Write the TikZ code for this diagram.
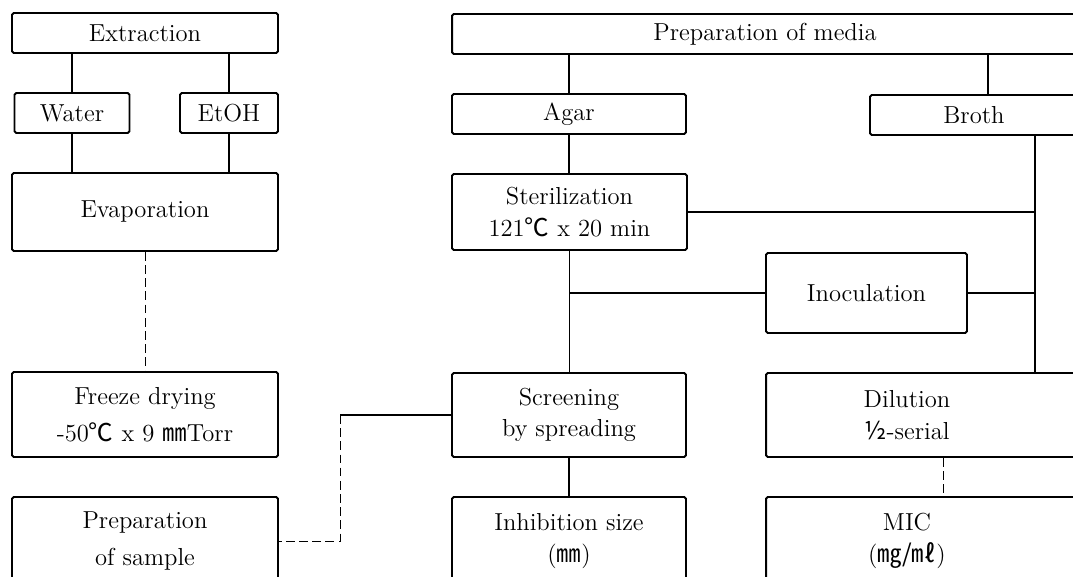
\documentclass[tikz,border=0pt]{standalone}
\usepackage{fontspec}
\newfontfamily\cjk{Noto Sans CJK KR}
\begin{document}
\begin{tikzpicture}[x=0.02cm,y=-0.02cm,
        font=\fontsize{14}{18}\selectfont,
        box/.style={draw,line width=1.1pt,rounded corners=1pt,inner sep=0pt,align=center},
        link/.style={line width=0.6pt},
        faint/.style={line width=0.5pt,dash pattern=on 5pt off 2.5pt}]

    \useasboundingbox (0,0) rectangle (1073,577);
    \fill[white] (0,0) rectangle (1073,577);
    \clip (0,0) rectangle (1073,577);

    % sample side
    \node[box,minimum width=5.32cm,minimum height=0.8cm] (extr) at (145,33) {Extraction};
    \node[box,minimum width=2.3cm,minimum height=0.8cm] (water) at (72,113) {Water};
    \node[box,minimum width=1.96cm,minimum height=0.8cm] (etoh) at (229,113) {EtOH};
    \node[box,minimum width=5.32cm,minimum height=1.56cm] (evap) at (145,212) {Evaporation};
    \node[box,minimum width=5.32cm,minimum height=1.7cm] (freeze) at (145,414.5)
        {Freeze drying\\[3pt]-50{\cjk ℃} x 9 {\cjk ㎜}Torr};
    \node[box,minimum width=5.32cm,minimum height=1.76cm] (sample) at (145,541)
        {Preparation\\[3pt]of sample};

    % media side
    \node[box,minimum width=12.52cm,minimum height=0.8cm] (media) at (765,34) {Preparation of media};
    \node[box,minimum width=4.68cm,minimum height=0.8cm] (agar) at (569,114) {Agar};
    \node[box,minimum width=4.16cm,minimum height=0.8cm] (broth) at (974,115) {Broth};
    \node[box,minimum width=4.7cm,minimum height=1.52cm] (ster) at (569.5,212)
        {Sterilization\\121{\cjk ℃} x 20 min};
    \node[box,minimum width=4.02cm,minimum height=1.6cm] (inoc) at (866.5,293) {Inoculation};
    \node[box,minimum width=4.68cm,minimum height=1.68cm] (screen) at (569,415)
        {Screening\\by spreading};
    \node[box,minimum width=4.68cm,minimum height=1.76cm] (inh) at (569,541)
        {Inhibition size\\({\cjk ㎜})};
    \node[box,minimum width=6.4cm,minimum height=1.68cm] (dil) at (926,415) {};
    \node (dil-t) at (907,415) [align=center] {Dilution\\{\cjk ½}-serial};
    \node[box,minimum width=6.4cm,minimum height=1.76cm] (mic) at (926,541) {};
    \node (mic-t) at (907,541) [align=center] {MIC\\({\cjk ㎎/㎖})};

    \coordinate (bus) at (1035,0);
    \coordinate (jn) at (340,0);

    % connectors
    \draw[link] (extr.south -| water.north) -- (water.north);
    \draw[link] (extr.south -| etoh.north) -- (etoh.north);
    \draw[link] (water.south) -- (evap.north -| water.south);
    \draw[link] (etoh.south) -- (evap.north -| etoh.south);
    \draw[faint] (evap.south) -- (freeze.north);
    \draw[link] (screen.west) -- (screen.west -| jn);
    \draw[faint] (screen.west -| jn) |- (sample.east);

    \draw[link] (media.south -| agar.north) -- (agar.north);
    \draw[link] (media.south -| 988,0) -- (broth.north -| 988,0);
    \draw[link] (agar.south) -- (ster.north -| agar.south);
    \draw[link] (broth.south -| bus) -- (dil.north -| bus);
    \draw[link] (ster.east) -- (ster.east -| bus);
    \draw[link] (ster.south) -- (screen.north -| ster.south);
    \draw[link] (ster.south |- inoc.west) -- (inoc.west);
    \draw[link] (inoc.east) -- (inoc.east -| bus);
    \draw[link] (screen.south) -- (inh.north);
    \draw[faint] (dil.south -| 943,0) -- (mic.north -| 943,0);
\end{tikzpicture}
\end{document}
